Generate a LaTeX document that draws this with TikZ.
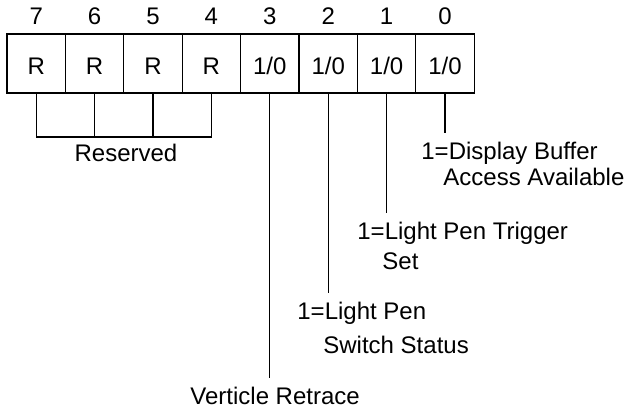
\documentclass[tikz,border=0pt]{standalone}
\usepackage{fontspec}
\setmainfont{Liberation Sans}
\usetikzlibrary{positioning, calc}

\tikzset{
  cell/.style={draw, rectangle, line width=0.6bp, minimum width=29.2bp, minimum height=29.5bp,
    inner sep=0pt, outer sep=0pt, text height=11.5bp, text depth=0pt},
  bitno/.style={anchor=base, inner sep=0pt},
  lbl/.style={anchor=north west, align=left, inner sep=0pt, outer ysep=4.5bp},
  wire/.style={line width=0.6bp}
}

\begin{document}
\begin{tikzpicture}[x=0.5bp, y=-0.5bp, font=\fontsize{12bp}{13bp}\selectfont]
  \useasboundingbox (0,0) rectangle (630,410);

  % ==== Register cells ====
  \node[cell] (b7) at (36.2,63.5) {R};
  \node[cell, right=0pt of b7] (b6) {R};
  \node[cell, right=0pt of b6] (b5) {R};
  \node[cell, right=0pt of b5] (b4) {R};
  \node[cell, right=0pt of b4] (b3) {1/0};
  \node[cell, right=0pt of b3] (b2) {1/0};
  \node[cell, right=0pt of b2] (b1) {1/0};
  \node[cell, right=0pt of b1] (b0) {1/0};

  % bit numbers
  \node[bitno] (n7) at ($(b7.north)+(0,-9)$) {7};
  \node[bitno] (n6) at ($(b6.north)+(0,-9)$) {6};
  \node[bitno] (n5) at ($(b5.north)+(0,-9)$) {5};
  \node[bitno] (n4) at ($(b4.north)+(0,-9)$) {4};
  \node[bitno] (n3) at ($(b3.north)+(0,-9)$) {3};
  \node[bitno] (n2) at ($(b2.north)+(0,-9)$) {2};
  \node[bitno] (n1) at ($(b1.north)+(0,-9)$) {1};
  \node[bitno] (n0) at ($(b0.north)+(0,-9)$) {0};

  % ==== Reserved bracket ====
  \coordinate (r7) at ($(b7.south)+(0,44)$);
  \coordinate (r6) at ($(b6.south)+(0,44)$);
  \coordinate (r5) at ($(b5.south)+(0,44)$);
  \coordinate (r4) at ($(b4.south)+(0,44)$);
  \draw[wire] (b7.south) -- (r7) -- (r4) -- (b4.south);
  \draw[wire] (b6.south) -- (r6);
  \draw[wire] (b5.south) -- (r5);
  \node[bitno] (res) at (126,162) {Reserved};

  % ==== Bit labels ====
  \node[lbl] (l0) at (421,133) {1=Display Buffer\\\hspace*{11bp}Access Available};
  \node[lbl] (l1) at (357,213) {1=Light Pen Trigger\\[2bp]\hspace*{12.5bp}Set};
  \node[lbl] (l2) at (297,293) {1=Light Pen\\[4bp]\hspace*{13bp}Switch Status};
  \node[lbl] (l3) at (190,378) {Verticle Retrace};

  \draw[wire] (b0.south) -- (b0.south |- l0.north);
  \draw[wire] (b1.south) -- (b1.south |- l1.north);
  \draw[wire] (b2.south) -- (b2.south |- l2.north);
  \draw[wire] (b3.south) -- (b3.south |- l3.north);
\end{tikzpicture}
\end{document}
